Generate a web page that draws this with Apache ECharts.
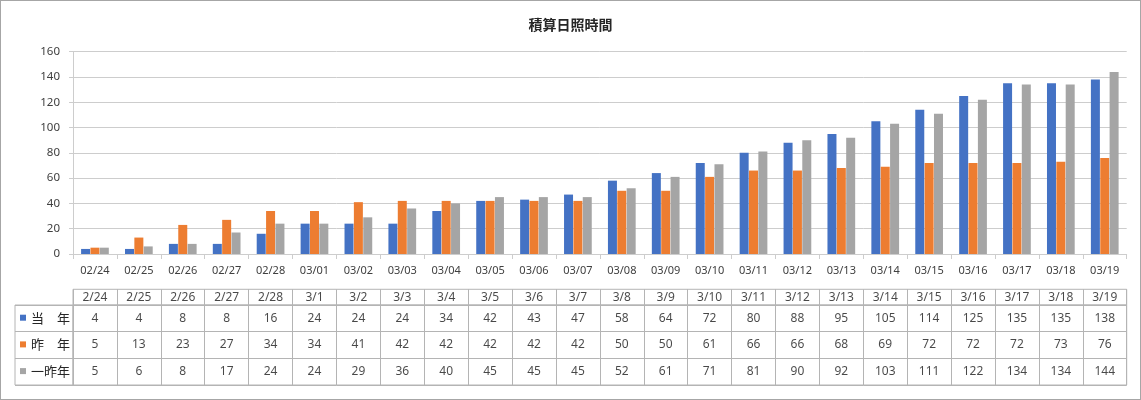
<!DOCTYPE html>
<html>
<head>
<meta charset="utf-8">
<script src="https://cdn.jsdelivr.net/npm/echarts@6/dist/echarts.min.js"></script>
<style>
html,body{margin:0;padding:0;background:#fff;}
#frame{position:absolute;left:0;top:0;width:1141px;height:400px;box-sizing:border-box;border:1px solid #a6a6a6;}
#chart{width:1139px;height:398px;}
</style>
</head>
<body>
<div id="frame"><div id="chart"></div></div>
<script>
// ---- data ----
const axisDates = ['02/24','02/25','02/26','02/27','02/28','03/01','03/02','03/03','03/04','03/05','03/06','03/07','03/08','03/09','03/10','03/11','03/12','03/13','03/14','03/15','03/16','03/17','03/18','03/19'];
const tableDates = ['2/24','2/25','2/26','2/27','2/28','3/1','3/2','3/3','3/4','3/5','3/6','3/7','3/8','3/9','3/10','3/11','3/12','3/13','3/14','3/15','3/16','3/17','3/18','3/19'];
const seriesNames = ['当　年','昨　年','一昨年'];
const thisYear = [4,4,8,8,16,24,24,24,34,42,43,47,58,64,72,80,88,95,105,114,125,135,135,138];
const lastYear = [5,13,23,27,34,34,41,42,42,42,42,42,50,50,61,66,66,68,69,72,72,72,73,76];
const twoYearsAgo = [5,6,8,17,24,24,29,36,40,45,45,45,52,61,71,81,90,92,103,111,122,134,134,144];
const yTicks = {min:0, max:160, interval:20};
const colors = ['#4472C4','#ED7D31','#A5A5A5'];

const values = [thisYear, lastYear, twoYearsAgo];
const FONT = 'Noto Sans, Noto Sans CJK JP, sans-serif';
const GRID_LINE = '#cdcdcd';
const TABLE_LINE = '#b4b4b4';

const chart = echarts.init(document.getElementById('chart'), null, {renderer:'canvas'});

const series = [];
values.forEach((vals, k) => {
  series.push({
    name: seriesNames[k], type:'bar', xAxisIndex:0, yAxisIndex:0,
    data: vals, barWidth: 9, barGap: '4%',
    itemStyle:{color: colors[k]}
  });
});
// header row of table
series.push({
  type:'scatter', xAxisIndex:1, yAxisIndex:1, symbolSize:1, silent:true,
  itemStyle:{color:'rgba(0,0,0,0)'},
  data: tableDates.map((d,i)=>[i,0]),
  label:{show:true, position:'inside', color:'#1a1a1a', fontSize:12, fontFamily:FONT,
    formatter: p => tableDates[p.dataIndex]}
});
// value rows of table
values.forEach((vals, k) => {
  series.push({
    type:'scatter', xAxisIndex:2, yAxisIndex:2, symbolSize:1, silent:true,
    itemStyle:{color:'rgba(0,0,0,0)'},
    data: vals.map((v,i)=>[i,k,v]),
    label:{show:true, position:'inside', color:'#1a1a1a', fontSize:12, fontFamily:FONT,
      formatter: p => String(p.value[2])}
  });
});

const hiddenCat = (gi, data, extra) => Object.assign({
  type:'category', gridIndex:gi, data:data, boundaryGap:true,
  axisLine:{show:false}, axisTick:{show:false}, axisLabel:{show:false},
  splitLine:{show:true, interval:0, lineStyle:{color:TABLE_LINE, width:1}}
}, extra||{});

const option = {
  animation:false,
  backgroundColor:'#fff',
  title:{text:'積算日照時間', left:'center', top:12,
    textStyle:{fontSize:14, fontWeight:'bold', color:'#262626', fontFamily:'Noto Sans CJK JP, sans-serif'}},
  legend:{
    data: seriesNames, orient:'vertical', left:19, top:308.7, padding:0,
    itemWidth:6, itemHeight:6, itemGap:10.7, icon:'rect', selectedMode:false,
    textStyle:{fontSize:13, lineHeight:16, color:'#262626', fontFamily:'Noto Sans CJK JP, sans-serif'}
  },
  grid:[
    {left:72, right:13.3, top:50.7, bottom:145},
    {left:72, right:13.3, top:288.3, height:15.7, show:true, borderColor:TABLE_LINE, borderWidth:1},
    {left:72, right:13.3, top:304, height:80, show:true, borderColor:TABLE_LINE, borderWidth:1},
    {left:14, width:58, top:304, height:80, show:true, borderColor:TABLE_LINE, borderWidth:1}
  ],
  xAxis:[
    {type:'category', gridIndex:0, data:axisDates,
      axisLine:{show:true, lineStyle:{color:GRID_LINE}},
      axisTick:{show:true, length:5, lineStyle:{color:GRID_LINE}},
      axisLabel:{color:'#404040', fontSize:11, margin:11, fontFamily:FONT}},
    hiddenCat(1, tableDates),
    hiddenCat(2, tableDates),
    hiddenCat(3, [''], {splitLine:{show:false}})
  ],
  yAxis:[
    {type:'value', gridIndex:0, min:yTicks.min, max:yTicks.max, interval:yTicks.interval,
      axisLine:{show:true, lineStyle:{color:GRID_LINE}},
      axisTick:{show:true, length:4, lineStyle:{color:GRID_LINE}},
      axisLabel:{color:'#404040', fontSize:11.5, margin:13, fontFamily:FONT},
      splitLine:{show:true, lineStyle:{color:GRID_LINE, width:1}}},
    hiddenCat(1, [''], {splitLine:{show:false}}),
    hiddenCat(2, seriesNames, {inverse:true}),
    hiddenCat(3, seriesNames, {inverse:true})
  ],
  series: series
};
chart.setOption(option);
</script>
</body>
</html>
